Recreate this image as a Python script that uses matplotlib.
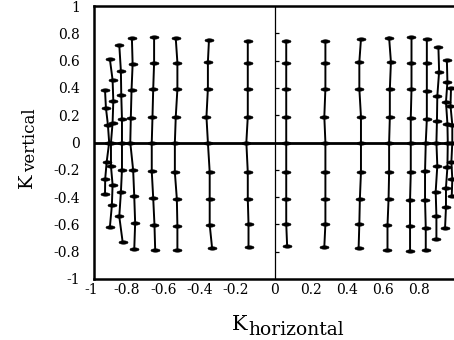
import numpy as np
import matplotlib
matplotlib.use('Agg')
import matplotlib.pyplot as plt
import matplotlib.transforms as mtransforms
from matplotlib.path import Path

c01_x = [-0.939, -0.934, -0.923, -0.916, -0.930, -0.938, -0.939]
c01_y = [0.385, 0.255, 0.130, 0.0, -0.145, -0.267, -0.375]
c02_x = [-0.912, -0.897, -0.893, -0.897, -0.906, -0.906, -0.897, -0.901, -0.912]
c02_y = [0.610, 0.458, 0.304, 0.145, 0.0, -0.174, -0.309, -0.461, -0.620]
c03_x = [-0.860, -0.851, -0.849, -0.845, -0.845, -0.845, -0.851, -0.860, -0.841]
c03_y = [0.715, 0.524, 0.348, 0.169, 0.0, -0.199, -0.365, -0.542, -0.732]
c04_x = [-0.790, -0.786, -0.792, -0.796, -0.799, -0.783, -0.777, -0.772, -0.777]
c04_y = [0.762, 0.574, 0.385, 0.182, 0.0, -0.204, -0.395, -0.590, -0.783]
c05_x = [-0.667, -0.667, -0.672, -0.676, -0.680, -0.680, -0.672, -0.665, -0.661]
c05_y = [0.770, 0.586, 0.390, 0.186, 0.0, -0.211, -0.407, -0.603, -0.787]
c06_x = [-0.547, -0.538, -0.538, -0.547, -0.552, -0.552, -0.541, -0.538, -0.538]
c06_y = [0.762, 0.586, 0.390, 0.189, 0.0, -0.218, -0.414, -0.610, -0.787]
c07_x = [-0.363, -0.369, -0.369, -0.377, -0.369, -0.359, -0.359, -0.359, -0.346]
c07_y = [0.752, 0.590, 0.395, 0.189, 0.0, -0.218, -0.414, -0.603, -0.770]
c08_x = [-0.148, -0.148, -0.148, -0.148, -0.156, -0.148, -0.148, -0.144, -0.144]
c08_y = [0.745, 0.586, 0.395, 0.189, 0.0, -0.218, -0.412, -0.596, -0.763]
c09_x = [0.065, 0.065, 0.065, 0.065, 0.065, 0.065, 0.065, 0.065, 0.070]
c09_y = [0.745, 0.586, 0.395, 0.189, 0.0, -0.218, -0.412, -0.596, -0.758]
c10_x = [0.282, 0.282, 0.282, 0.276, 0.282, 0.282, 0.282, 0.282, 0.276]
c10_y = [0.745, 0.586, 0.395, 0.189, 0.0, -0.218, -0.412, -0.596, -0.763]
c11_x = [0.479, 0.470, 0.470, 0.479, 0.479, 0.479, 0.473, 0.470, 0.466]
c11_y = [0.757, 0.590, 0.395, 0.189, 0.0, -0.218, -0.412, -0.596, -0.774]
c12_x = [0.635, 0.645, 0.639, 0.639, 0.635, 0.635, 0.632, 0.626, 0.626]
c12_y = [0.768, 0.590, 0.390, 0.184, 0.0, -0.218, -0.412, -0.608, -0.787]
c13_x = [0.759, 0.759, 0.759, 0.755, 0.755, 0.755, 0.751, 0.751, 0.751]
c13_y = [0.770, 0.586, 0.390, 0.182, 0.0, -0.218, -0.419, -0.615, -0.792]
c14_x = [0.844, 0.844, 0.844, 0.844, 0.838, 0.834, 0.834, 0.838, 0.838]
c14_y = [0.757, 0.586, 0.377, 0.169, 0.0, -0.211, -0.419, -0.625, -0.787]
c15_x = [0.908, 0.912, 0.902, 0.900, 0.897, 0.902, 0.893, 0.897, 0.897]
c15_y = [0.700, 0.520, 0.340, 0.160, 0.0, -0.170, -0.360, -0.540, -0.710]
c16_x = [0.955, 0.958, 0.950, 0.958, 0.960, 0.958, 0.950, 0.950, 0.945]
c16_y = [0.603, 0.443, 0.296, 0.138, 0.0, -0.180, -0.330, -0.476, -0.623]
c17_x = [0.978, 0.975, 0.985, 0.985, 0.980, 0.985, 0.982]
c17_y = [0.400, 0.270, 0.130, 0.0, -0.140, -0.270, -0.390]

x_ticks = [-1, -0.8, -0.6, -0.4, -0.2, 0, 0.2, 0.4, 0.6, 0.8]
x_tick_labels = ['-1', '-0.8', '-0.6', '-0.4', '-0.2', '0', '0.2', '0.4', '0.6', '0.8']
y_ticks = [-1, -0.8, -0.6, -0.4, -0.2, 0, 0.2, 0.4, 0.6, 0.8, 1]
y_tick_labels = ['-1', '-0.8', '-0.6', '-0.4', '-0.2', '0', '0.2', '0.4', '0.6', '0.8', '1']
inner_ticks = [-0.8, -0.6, -0.4, -0.2, 0.2, 0.4, 0.6, 0.8]

columns = [
    (c01_x, c01_y), (c02_x, c02_y), (c03_x, c03_y), (c04_x, c04_y),
    (c05_x, c05_y), (c06_x, c06_y), (c07_x, c07_y), (c08_x, c08_y),
    (c09_x, c09_y), (c10_x, c10_y), (c11_x, c11_y), (c12_x, c12_y),
    (c13_x, c13_y), (c14_x, c14_y), (c15_x, c15_y), (c16_x, c16_y),
    (c17_x, c17_y),
]

plt.rcParams['font.family'] = ['DejaVu Serif']
plt.rcParams['axes.unicode_minus'] = False

# flat oval marker, like the blobs on the scanned plot
t = np.linspace(0, 2 * np.pi, 40)
oval = Path(np.column_stack([np.cos(t), 0.38 * np.sin(t)]), closed=True)

fig = plt.figure(figsize=(4.54, 3.40), dpi=100)
ax = fig.add_axes([94 / 454, 61 / 340, 361 / 454, 273 / 340])

# the grid columns
for cx, cy in columns:
    ax.plot(cx, cy, color='black', linewidth=1.4, marker=oval,
            markersize=6.5, markeredgewidth=0.4, zorder=3)

# axis lines through the origin
ax.axhline(0, color='black', linewidth=2.0, zorder=4)
ax.axvline(0, color='black', linewidth=0.9, zorder=2)
ax.plot([0] * len(inner_ticks), inner_ticks, linestyle='none', marker=1,
        markersize=3, markeredgewidth=0.9, color='black', zorder=2)

ax.set_xlim(-1, 1)
ax.set_ylim(-1, 1)

for side in ['left', 'top', 'bottom']:
    ax.spines[side].set_linewidth(1.8)
ax.spines['right'].set_visible(False)

ax.set_xticks(x_ticks)
ax.set_xticklabels(x_tick_labels)
ax.set_yticks(y_ticks)
ax.set_yticklabels(y_tick_labels)
ax.tick_params(axis='both', length=0, labelsize=10)
ax.tick_params(axis='x', pad=3)
ax.tick_params(axis='y', pad=10)

# keep the numbers (not the sign) centred on negative x ticks
shift = mtransforms.ScaledTranslation(-3 / 100, 0, fig.dpi_scale_trans)
for lab in ax.get_xticklabels():
    if lab.get_text().startswith('-'):
        lab.set_transform(lab.get_transform() + shift)

# axis titles: big K with a full-size lowered subscript
fig.text(232 / 454, (340 - 330) / 340, 'K', fontsize=15,
         ha='left', va='baseline')
fig.text(248 / 454, (340 - 335) / 340, 'horizontal', fontsize=13.5,
         ha='left', va='baseline')

fig.text(32 / 454, (340 - 188) / 340, 'K', fontsize=14, rotation=90,
         rotation_mode='anchor', ha='left', va='baseline')
fig.text(35 / 454, (340 - 172) / 340, 'vertical', fontsize=12, rotation=90,
         rotation_mode='anchor', ha='left', va='baseline')

fig.savefig('out.png', dpi=100)
